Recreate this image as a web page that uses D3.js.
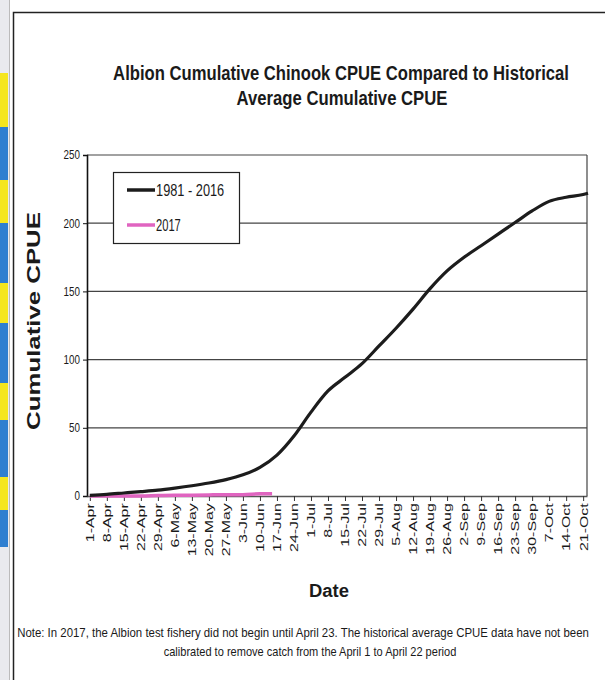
<!DOCTYPE html>
<html>
<head>
<meta charset="utf-8">
<script src="https://cdn.jsdelivr.net/npm/d3@7"></script>
<style>
  body { margin: 0; background: #fff; }
  svg { display: block; }
  text { fill: #1a1a1a; }
</style>
</head>
<body>
<div id="chart"></div>
<script>
// weekly tick labels on the date axis
var tickLabels = ['1-Apr', '8-Apr', '15-Apr', '22-Apr', '29-Apr', '6-May', '13-May', '20-May', '27-May',
  '3-Jun', '10-Jun', '17-Jun', '24-Jun', '1-Jul', '8-Jul', '15-Jul', '22-Jul', '29-Jul',
  '5-Aug', '12-Aug', '19-Aug', '26-Aug', '2-Sep', '9-Sep', '16-Sep', '23-Sep', '30-Sep',
  '7-Oct', '14-Oct', '21-Oct'];

// historical average 1981 - 2016
var histDates = tickLabels.concat(['23-Oct']);
var histValues = [0.5, 1.2, 2.2, 3.2, 4.3, 5.8, 7.5, 9.5, 12, 15.5, 21, 30, 44, 61.5, 77, 87, 97,
  110, 123, 137, 152, 165, 175, 183.5, 192, 200.5, 209, 216, 219, 221, 222];

// 2017 season
var dates2017 = ['1-Apr', '8-Apr', '15-Apr', '22-Apr', '29-Apr', '6-May', '13-May', '20-May', '27-May', '3-Jun', '10-Jun', '15-Jun'];
var values2017 = [0, 0, 0, 0, 0.3, 0.5, 0.6, 0.8, 0.9, 1.0, 1.6, 1.7];

var yTicks = [0, 50, 100, 150, 200, 250];
var seriesNames = ['1981 - 2016', '2017'];
var seriesColours = ['#1c1c1c', '#e064c0'];

var parseDay = d3.timeParse('%d-%b-%Y');
function toDate(s) { return parseDay(s + '-2017'); }

var width = 605, height = 680;
var sans = '"Liberation Sans", Arial, sans-serif';

var svg = d3.select('#chart').append('svg')
  .attr('width', width)
  .attr('height', height);

// scanned page edge strips
var strips = [[73, 127, '#f5e61e'], [127, 180, '#2f7fd0'], [180, 223, '#f5e61e'], [223, 283, '#2f7fd0'],
  [283, 323, '#f5e61e'], [323, 383, '#2f7fd0'], [383, 420, '#f5e61e'], [420, 477, '#2f7fd0'],
  [477, 510, '#f5e61e'], [510, 547, '#2f7fd0']];
svg.append('rect').attr('x', 0).attr('y', 0).attr('width', 9).attr('height', height).attr('fill', '#e9eaee');
svg.selectAll('.strip').data(strips).enter().append('rect')
  .attr('class', 'strip')
  .attr('x', 0).attr('y', function (d) { return d[0]; })
  .attr('width', 8).attr('height', function (d) { return d[1] - d[0]; })
  .attr('fill', function (d) { return d[2]; });
svg.append('line').attr('x1', 9.5).attr('x2', 9.5).attr('y1', 0).attr('y2', height).attr('stroke', '#bbb');
svg.append('path')
  .attr('d', 'M13.5,' + height + 'V12.5H605')
  .attr('fill', 'none').attr('stroke', '#222').attr('stroke-width', 1.5);

var margin = {top: 155, bottom: 184, left: 87, right: 18};

var x = d3.scaleTime()
  .domain([d3.timeHour.offset(toDate('1-Apr'), -28), d3.timeHour.offset(toDate('21-Oct'), 38)])
  .range([margin.left, width - margin.right]);

var y = d3.scaleLinear()
  .domain([0, 250])
  .range([height - margin.bottom, margin.top]);

// gridlines
svg.selectAll('.grid').data(yTicks.slice(1)).enter().append('line')
  .attr('class', 'grid')
  .attr('x1', margin.left).attr('x2', width - margin.right)
  .attr('y1', function (d) { return y(d); }).attr('y2', function (d) { return y(d); })
  .attr('stroke', '#444').attr('stroke-width', 1.2);

// right frame
svg.append('line')
  .attr('x1', width - margin.right).attr('x2', width - margin.right)
  .attr('y1', y(250)).attr('y2', y(0))
  .attr('stroke', '#444').attr('stroke-width', 1.2);

// y axis
var yAxis = svg.append('g')
  .attr('transform', 'translate(' + margin.left + ',0)')
  .call(d3.axisLeft(y).tickValues(yTicks).tickSize(4).tickPadding(0));
yAxis.select('.domain').attr('stroke', '#111').attr('stroke-width', 1.6);
yAxis.selectAll('.tick line').attr('stroke', '#111');
yAxis.selectAll('text')
  .style('font-family', sans).style('font-size', '12px').attr('fill', '#1a1a1a')
  .attr('x', 0)
  .attr('transform', 'translate(-7,0) scale(0.82,1)');

// x axis
var xAxis = svg.append('g')
  .attr('transform', 'translate(0,' + y(0) + ')')
  .call(d3.axisBottom(x)
    .tickValues(tickLabels.map(toDate))
    .tickFormat(d3.timeFormat('%-d-%b'))
    .tickSize(5)
    .tickSizeOuter(0));
xAxis.select('.domain').attr('stroke', '#555').attr('stroke-width', 1.6);
xAxis.selectAll('.tick line').attr('stroke', '#333');
xAxis.selectAll('text')
  .style('font-family', sans)
  .style('font-size', '11px')
  .attr('fill', '#1a1a1a')
  .attr('text-anchor', 'end')
  .attr('transform', 'rotate(-90) scale(1.45,1)')
  .attr('x', -5).attr('y', 0).attr('dy', '0.35em');

// lines
var line = d3.line()
  .x(function (d) { return x(d.date); })
  .y(function (d) { return y(d.value); })
  .curve(d3.curveMonotoneX);

var hist = histDates.map(function (d, i) { return {date: toDate(d), value: histValues[i]}; });
var s2017 = dates2017.map(function (d, i) { return {date: toDate(d), value: values2017[i]}; });

svg.append('path').datum(s2017)
  .attr('d', line).attr('fill', 'none')
  .attr('stroke', seriesColours[1]).attr('stroke-width', 3.5);

svg.append('path').datum(hist)
  .attr('d', line).attr('fill', 'none')
  .attr('stroke', seriesColours[0]).attr('stroke-width', 3.2)
  .attr('stroke-linejoin', 'round');

// text squeezed horizontally to the scan's proportions
function fitted(parent, txt, cx, cy, len, size, weight, rot) {
  var t = parent.append('text')
    .attr('text-anchor', 'middle')
    .style('font-family', sans).style('font-size', size + 'px').style('font-weight', weight)
    .text(txt);
  var w = t.node().getComputedTextLength();
  t.attr('transform', 'translate(' + cx + ',' + cy + ')' + (rot ? ' rotate(' + rot + ')' : '') +
    ' scale(' + (len / w) + ',1)');
  return t;
}

// legend
var legend = svg.append('g');
legend.append('rect')
  .attr('x', 113.5).attr('y', 172.5).attr('width', 126).attr('height', 71)
  .attr('fill', '#fff').attr('stroke', '#222').attr('stroke-width', 1.2);
seriesNames.forEach(function (name, i) {
  var ly = 190 + i * 35;
  legend.append('line')
    .attr('x1', 127).attr('x2', 155).attr('y1', ly).attr('y2', ly)
    .attr('stroke', seriesColours[i]).attr('stroke-width', 3.5);
  var len = name.length * 6.2;
  fitted(legend, name, 156 + len / 2, ly + 5.5, len, 16, 'normal');
});

// titles
fitted(svg, 'Albion Cumulative Chinook CPUE Compared to Historical', 341, 80, 456, 20, 'bold');
fitted(svg, 'Average Cumulative CPUE', 342, 105, 211, 20, 'bold');
fitted(svg, 'Date', 329, 597, 40, 19, 'bold');
fitted(svg, 'Note: In 2017, the Albion test fishery did not begin until April 23. The historical average CPUE data have not been', 303, 637, 572, 12.5, 'normal');
fitted(svg, 'calibrated to remove catch from the April 1 to April 22 period', 310, 656, 293, 12.5, 'normal');
fitted(svg, 'Cumulative CPUE', 40, 321, 218, 18, 'bold', -90);
</script>
</body>
</html>
